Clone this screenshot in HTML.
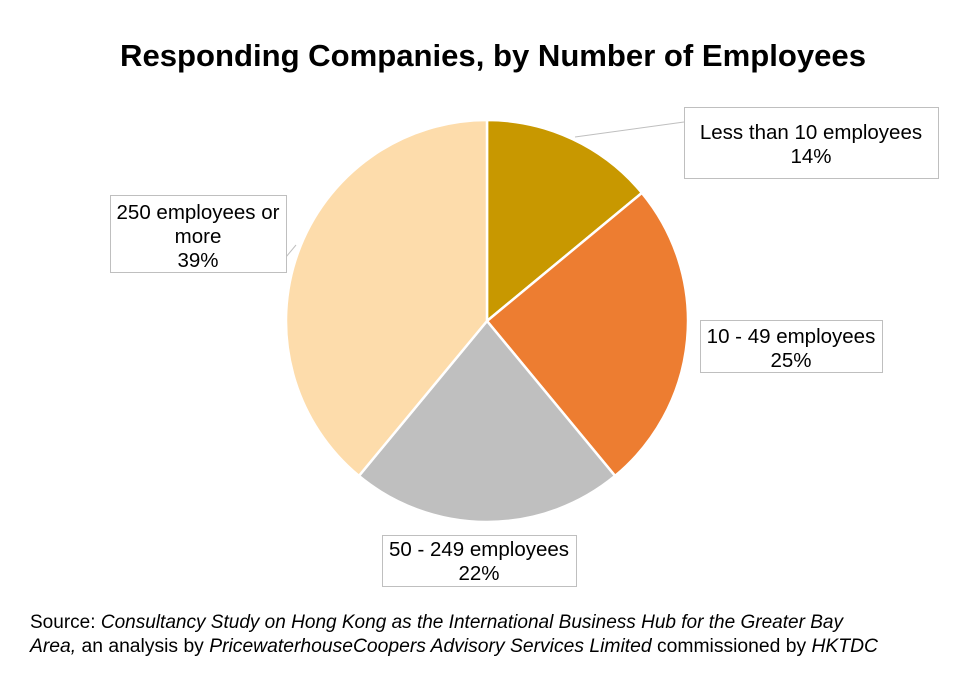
<!DOCTYPE html>
<html><head><meta charset="utf-8"><style>
body{margin:0;background:#fff;width:968px;height:669px;overflow:hidden;font-family:"Liberation Sans",Arial,sans-serif}
</style></head><body>
<svg width="968" height="669" viewBox="0 0 968 669" xmlns="http://www.w3.org/2000/svg" font-family="Liberation Sans, Arial, sans-serif">
<rect width="968" height="669" fill="#fff"/>
<text x="493" y="66" text-anchor="middle" font-size="30.5" font-weight="bold" fill="#000" textLength="746" lengthAdjust="spacingAndGlyphs">Responding Companies, by Number of Employees</text>
<g stroke="#fff" stroke-width="2.5" stroke-linejoin="round">
<path d="M487,321 L487,120 A201,201 0 0 1 641.9,192.9 Z" fill="#C89800"/>
<path d="M487,321 L641.9,192.9 A201,201 0 0 1 615.1,475.9 Z" fill="#ED7D31"/>
<path d="M487,321 L615.1,475.9 A201,201 0 0 1 358.9,475.9 Z" fill="#BFBFBF"/>
<path d="M487,321 L358.9,475.9 A201,201 0 0 1 487,120 Z" fill="#FDDCAB"/>
</g>
<g stroke="#BFBFBF" stroke-width="1" fill="none">
<polyline points="575,137 684,122"/>
<polyline points="286,257 296,245"/>
</g>
<g fill="#fff" stroke="#BFBFBF" stroke-width="1">
<rect x="684.5" y="107.5" width="254" height="71"/>
<rect x="700.5" y="320.5" width="182" height="52"/>
<rect x="382.5" y="535.5" width="194" height="51"/>
<rect x="110.5" y="195.5" width="176" height="77"/>
</g>
<g font-size="20.5" fill="#000" text-anchor="middle">
<text x="811" y="139">Less than 10 employees</text>
<text x="811" y="163">14%</text>
<text x="791" y="343">10 - 49 employees</text>
<text x="791" y="367">25%</text>
<text x="479" y="556">50 - 249 employees</text>
<text x="479" y="580">22%</text>
<text x="198" y="219">250 employees or</text>
<text x="198" y="243">more</text>
<text x="198" y="267">39%</text>
</g>
<g font-size="19" fill="#000">
<text x="30" y="628" textLength="813" lengthAdjust="spacingAndGlyphs">Source: <tspan font-style="italic">Consultancy Study on Hong Kong as the International Business Hub for the Greater Bay</tspan></text>
<text x="30" y="652" textLength="848" lengthAdjust="spacingAndGlyphs"><tspan font-style="italic">Area,</tspan> an analysis by <tspan font-style="italic">PricewaterhouseCoopers Advisory Services Limited</tspan> commissioned by <tspan font-style="italic">HKTDC</tspan></text>
</g>
</svg>
</body></html>
